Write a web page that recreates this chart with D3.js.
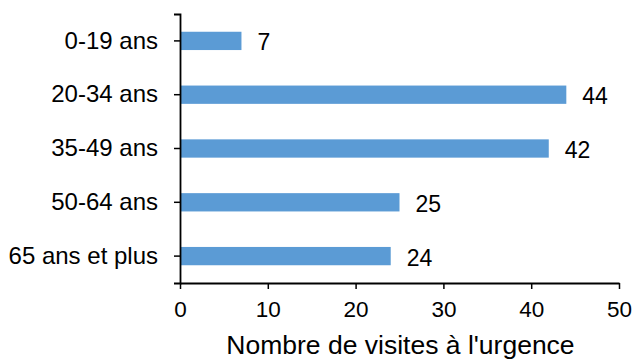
<!DOCTYPE html>
<html>
<head>
<meta charset="utf-8">
<script src="https://cdn.jsdelivr.net/npm/d3@7/dist/d3.min.js"></script>
<style>
  html, body { margin: 0; padding: 0; background: #fff; }
  svg { display: block; font-family: "Liberation Sans", Arial, sans-serif; }
</style>
</head>
<body>
<svg id="chart" width="634" height="360"></svg>
<script>
// Age groups and number of emergency visits
const categories = ["0-19 ans", "20-34 ans", "35-49 ans", "50-64 ans", "65 ans et plus"];
const visits = [7, 44, 42, 25, 24];
const xTicks = [0, 10, 20, 30, 40, 50];
const xTitle = "Nombre de visites à l'urgence";

const svg = d3.select("#chart");
const plotLeft = 180, plotRight = 619, plotTop = 14, plotBottom = 283;

const x = d3.scaleLinear().domain([0, 50]).range([plotLeft, plotRight]);
const y = d3.scaleBand().domain(categories).range([plotTop, plotBottom])
  .paddingInner(0.66).paddingOuter(0.33);

const data = categories.map((c, i) => ({ cat: c, value: visits[i] }));

// Bars
svg.append("g").selectAll("rect").data(data).join("rect")
  .attr("x", x(0))
  .attr("y", d => y(d.cat))
  .attr("width", d => x(d.value) - x(0))
  .attr("height", y.bandwidth())
  .attr("fill", "#5B9BD5");

// Value labels
svg.append("g").selectAll("text").data(data).join("text")
  .attr("x", d => x(d.value) + 16)
  .attr("y", d => y(d.cat) + y.bandwidth() / 2 + 1.5)
  .attr("dy", "0.35em")
  .attr("font-size", 23)
  .attr("fill", "#000")
  .text(d => d.value);

// X axis
const xAxis = svg.append("g")
  .attr("transform", `translate(0,${plotBottom})`)
  .call(d3.axisBottom(x).tickValues(xTicks).tickSize(6).tickPadding(12).tickSizeOuter(0));
xAxis.select(".domain").attr("stroke", "#000").attr("stroke-width", 1.8);
xAxis.selectAll(".tick line").attr("stroke", "#000").attr("stroke-width", 1.5);
xAxis.selectAll(".tick text").attr("font-size", 22.5).attr("fill", "#000")
  .attr("font-family", "Liberation Sans, Arial, sans-serif");

// Y axis
const yAxis = svg.append("g")
  .attr("transform", `translate(${plotLeft},0)`)
  .call(d3.axisLeft(y).tickSize(6).tickPadding(16).tickSizeOuter(6));
yAxis.select(".domain").attr("stroke", "#000").attr("stroke-width", 1.8);
yAxis.selectAll(".tick line").attr("stroke", "#000").attr("stroke-width", 1.5);
yAxis.selectAll(".tick text").attr("font-size", 24).attr("fill", "#000")
  .attr("font-family", "Liberation Sans, Arial, sans-serif");

// Axis title
svg.append("text")
  .attr("x", (plotLeft + plotRight) / 2 + 1)
  .attr("y", 354)
  .attr("text-anchor", "middle")
  .attr("font-size", 26.5)
  .attr("fill", "#000")
  .text(xTitle);
</script>
</body>
</html>
